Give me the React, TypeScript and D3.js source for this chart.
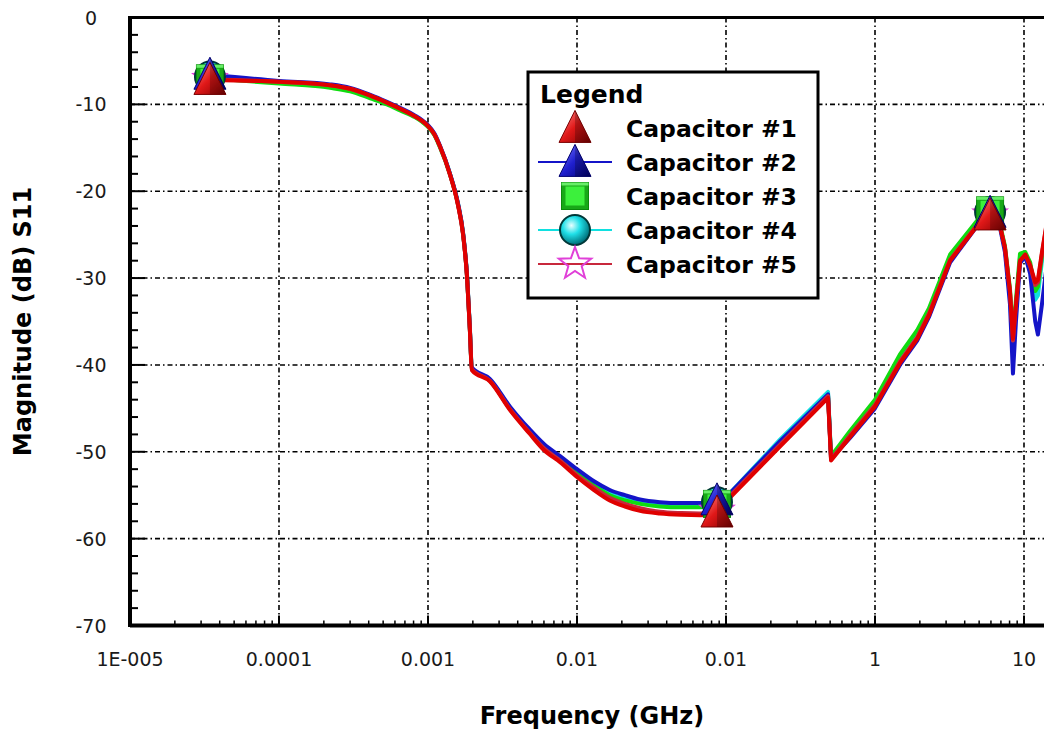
import React from "react";
import * as d3 from "d3";

// ---- data ----
const freqGHz = [
  3.44e-5, 1e-4, 2.2e-4, 3.0e-4, 4.1e-4, 5.3e-4, 6.5e-4, 8.2e-4, 9.1e-4, 1e-3, 1.1e-3, 1.2e-3,
  1.4e-3, 1.59e-3, 1.72e-3, 1.83e-3, 1.91e-3, 1.97e-3, 2.6e-3, 3.55e-3, 4.8e-3, 6.0e-3,
  7.7e-3, 0.01, 0.013, 0.0166, 0.021, 0.0265, 0.036, 0.05, 0.067, 0.087,
  0.106, 0.23, 0.484, 0.507, 0.68, 1.0, 1.47, 1.92, 2.3, 3.19,
  4.84, 5.6, 5.92, 6.9, 7.45, 8.05, 8.43, 8.83, 9.4, 10.2,
  11.0, 11.9, 12.4, 13.2, 14.1, 15.5,
];

const cap1 = [
  -7.2, -7.4, -7.8, -8.2, -9.0, -9.8, -10.5, -11.4, -11.9, -12.5, -13.4, -14.8,
  -18.0, -21.6, -25.0, -30.0, -36.0, -40.6, -41.9, -45.2, -47.9, -49.8,
  -51.2, -52.9, -54.4, -55.6, -56.3, -56.8, -57.1, -57.25, -57.3, -57.0,
  -55.3, -49.4, -43.8, -51.0, -48.3, -44.8, -39.8, -37.0, -34.3, -28.0,
  -24.0, -21.6, -22.8, -24.0, -26.5, -31.5, -37.0, -33.0, -28.0, -27.3,
  -28.5, -30.5, -30.2, -27.0, -24.0, -21.0,
];
const cap2 = [
  -6.6, -7.3, -7.7, -8.1, -8.9, -9.7, -10.4, -11.3, -11.8, -12.4, -13.3, -14.7,
  -17.9, -21.4, -24.8, -29.8, -35.8, -40.3, -41.6, -44.8, -47.4, -49.1,
  -50.5, -52.0, -53.4, -54.4, -55.0, -55.5, -55.8, -55.9, -55.9, -55.6,
  -54.8, -48.8, -43.4, -50.8, -48.4, -45.0, -40.0, -37.2, -34.5, -28.2,
  -24.0, -21.7, -22.5, -24.2, -27.0, -33.0, -41.0, -35.0, -28.3, -27.5,
  -29.5, -35.0, -36.5, -33.0, -29.0, -26.0,
];
const cap3 = [
  -7.0, -7.6, -8.1, -8.5, -9.3, -10.0, -10.7, -11.5, -12.0, -12.6, -13.5, -14.9,
  -18.0, -21.5, -24.9, -29.9, -35.9, -40.4, -41.8, -45.0, -47.7, -49.5,
  -50.9, -52.5, -53.9, -55.0, -55.6, -56.0, -56.3, -56.4, -56.4, -56.0,
  -55.0, -48.9, -43.5, -50.5, -47.6, -44.0, -38.8, -36.0, -33.5, -27.3,
  -23.4, -21.3, -22.2, -23.8, -26.3, -31.2, -36.5, -32.5, -27.2, -27.0,
  -28.2, -31.5, -31.0, -27.5, -24.5, -21.5,
];
const cap4 = [
  -6.8, -7.5, -8.0, -8.4, -9.2, -9.9, -10.6, -11.4, -11.9, -12.5, -13.4, -14.8,
  -17.9, -21.5, -24.9, -29.9, -35.9, -40.4, -41.7, -44.9, -47.6, -49.3,
  -50.7, -52.3, -53.7, -54.8, -55.4, -55.8, -56.1, -56.2, -56.2, -55.8,
  -54.8, -48.6, -43.1, -50.6, -47.9, -44.4, -39.2, -36.4, -33.9, -27.6,
  -23.6, -21.4, -22.4, -24.0, -26.6, -32.0, -38.0, -33.5, -27.6, -27.2,
  -28.8, -32.5, -32.0, -28.0, -25.0, -22.0,
];
const cap5 = [
  -7.1, -7.4, -7.8, -8.2, -9.0, -9.8, -10.5, -11.4, -11.9, -12.5, -13.4, -14.8,
  -18.0, -21.6, -25.0, -30.0, -36.0, -40.5, -41.8, -45.1, -47.8, -49.6,
  -51.0, -52.7, -54.1, -55.3, -56.0, -56.5, -56.9, -57.05, -57.1, -56.8,
  -55.1, -49.2, -43.6, -50.9, -48.1, -44.6, -39.6, -36.8, -34.1, -27.9,
  -23.9, -21.6, -22.7, -24.0, -26.5, -31.6, -37.2, -33.2, -28.0, -27.3,
  -28.6, -30.8, -30.5, -27.2, -24.2, -21.2,
];

const markerIdx = [0, 31, 44];
// points up to this index are drawn as a smooth curve, the rest as straight segments
const smoothEnd = 32;

const seriesNames = ["Capacitor #1", "Capacitor #2", "Capacitor #3", "Capacitor #4", "Capacitor #5"];

const xTickValues = [1e-5, 1e-4, 1e-3, 1e-2, 1e-1, 1, 10];
const xTickLabels = ["1E-005", "0.0001", "0.001", "0.01", "0.01", "1", "10"];
const yTickValues = [0, -10, -20, -30, -40, -50, -60, -70];
const yTickLabels = ["0", "-10", "-20", "-30", "-40", "-50", "-60", "-70"];

// ---- layout ----
const W = 1044;
const H = 731;
const LEFT = 130;
const TOP = 17.5;
const BOTTOM = 625.5;
const DECADE = 149;

const x = d3.scaleLog().domain([1e-5, Math.pow(10, 1.2)]).range([LEFT, LEFT + 6.2 * DECADE]);
const y = d3.scaleLinear().domain([-70, 0]).range([BOTTOM, TOP]);

type Shape = "triangle" | "square" | "circle" | "star";
const styles: { line: string; shape: Shape; fill: string; stroke: string; legendLine: boolean }[] = [
  { line: "#e00000", shape: "triangle", fill: "url(#gRed)", stroke: "#7a0000", legendLine: false },
  { line: "#1414c8", shape: "triangle", fill: "url(#gBlue)", stroke: "#000070", legendLine: true },
  { line: "#10dc10", shape: "square", fill: "#22dd22", stroke: "#0a8a0a", legendLine: false },
  { line: "#10e0e0", shape: "circle", fill: "url(#gCyan)", stroke: "#003838", legendLine: true },
  { line: "#c8283c", shape: "star", fill: "none", stroke: "#e040d8", legendLine: true },
];

const allSeries = [cap1, cap2, cap3, cap4, cap5];

function Marker({ shape, cx, cy, fill, stroke }: { shape: Shape; cx: number; cy: number; fill: string; stroke: string }) {
  if (shape === "triangle") {
    const w = 32, h = 32;
    const p = `M${cx},${cy - h * 0.55} L${cx + w / 2},${cy + h * 0.45} L${cx - w / 2},${cy + h * 0.45} Z`;
    return (
      <g>
        <path d={p} fill={fill} stroke={stroke} strokeWidth={1} />
        <path d={`M${cx},${cy - h * 0.55} L${cx + w / 2},${cy + h * 0.45} L${cx},${cy + h * 0.45} Z`} fill="#000" opacity={0.22} />
      </g>
    );
  }
  if (shape === "square") {
    const s = 27;
    return (
      <g>
        <rect x={cx - s / 2} y={cy - s / 2} width={s} height={s} fill="#18a818" stroke={stroke} strokeWidth={1} />
        <rect x={cx - s / 2 + 4} y={cy - s / 2 + 4} width={s - 8} height={s - 8} fill="#3cf03c" />
        <rect x={cx - s / 2} y={cy - s / 2} width={s} height={3} fill="#7cff7c" opacity={0.8} />
      </g>
    );
  }
  if (shape === "circle") {
    return <circle cx={cx} cy={cy} r={15} fill={fill} stroke={stroke} strokeWidth={2} />;
  }
  const pts: string[] = [];
  for (let i = 0; i < 10; i++) {
    const r = i % 2 === 0 ? 17 : 7;
    const a = -Math.PI / 2 + (i * Math.PI) / 5;
    pts.push(`${cx + r * Math.cos(a)},${cy + r * Math.sin(a)}`);
  }
  return <polygon points={pts.join(" ")} fill="none" stroke={stroke} strokeWidth={2} />;
}

export default function App() {
  const smoothLine = d3
    .line<[number, number]>()
    .x((d) => x(d[0]))
    .y((d) => y(d[1]))
    .curve(d3.curveMonotoneX);
  const straightLine = d3
    .line<[number, number]>()
    .x((d) => x(d[0]))
    .y((d) => y(d[1]))
    .curve(d3.curveLinear);

  const seriesPath = (vals: number[]) => {
    const pts = vals.map((v, i) => [freqGHz[i], v] as [number, number]);
    const a = smoothLine(pts.slice(0, smoothEnd + 1)) || "";
    const b = straightLine(pts.slice(smoothEnd)) || "";
    return a + b.replace(/^M/, "L");
  };

  const minorX: number[] = [];
  for (let e = -5; e <= 1; e++) {
    for (let m = 2; m <= 9; m++) minorX.push(m * Math.pow(10, e));
  }
  const minorY = d3.range(-70, 0.1, 2).filter((v) => v % 10 !== 0);

  const drawOrder = [3, 2, 1, 4, 0];
  const markerOrder = [4, 3, 2, 1, 0];
  const gridDash = "5,3,1.5,3";
  const rightEdge = LEFT + 6.2 * DECADE;

  const legendRows = [128, 162, 196, 230, 264];

  return (
    <svg width={W} height={H} style={{ position: "absolute", left: 0, top: 0, background: "#fff" }} fontFamily="DejaVu Sans, sans-serif">
      <defs>
        <linearGradient id="gRed" x1="0" y1="0" x2="1" y2="1">
          <stop offset="0" stopColor="#ff9090" />
          <stop offset="0.5" stopColor="#e01818" />
          <stop offset="1" stopColor="#800000" />
        </linearGradient>
        <linearGradient id="gBlue" x1="0" y1="0" x2="1" y2="1">
          <stop offset="0" stopColor="#8080ff" />
          <stop offset="0.5" stopColor="#2020d0" />
          <stop offset="1" stopColor="#000070" />
        </linearGradient>
        <radialGradient id="gCyan" cx="0.38" cy="0.35" r="0.65">
          <stop offset="0" stopColor="#e8ffff" />
          <stop offset="0.45" stopColor="#20e0e8" />
          <stop offset="1" stopColor="#00707a" />
        </radialGradient>
        <clipPath id="plotClip">
          <rect x={LEFT} y={TOP} width={rightEdge - LEFT} height={BOTTOM - TOP} />
        </clipPath>
      </defs>
      <rect x={0} y={0} width={W} height={H} fill="#fff" />

      {/* grid */}
      {xTickValues.slice(1).map((v, i) => (
        <line key={"gx" + i} x1={x(v)} x2={x(v)} y1={TOP} y2={BOTTOM} stroke="#000" strokeWidth={1.6} strokeDasharray={gridDash} />
      ))}
      {yTickValues.slice(1, -1).map((v, i) => (
        <line key={"gy" + i} x1={LEFT} x2={rightEdge} y1={y(v)} y2={y(v)} stroke="#000" strokeWidth={1.6} strokeDasharray={gridDash} />
      ))}

      {/* series lines */}
      <g clipPath="url(#plotClip)">
        {drawOrder.map((s) => (
          <path key={"l" + s} d={seriesPath(allSeries[s])} fill="none" stroke={styles[s].line} strokeWidth={4} strokeLinejoin="round" />
        ))}
      </g>

      {/* markers */}
      {markerIdx.map((idx) =>
        markerOrder.map((s) => (
          <Marker key={"m" + idx + "-" + s} shape={styles[s].shape} cx={x(freqGHz[idx])} cy={y(allSeries[s][idx])} fill={styles[s].fill} stroke={styles[s].stroke} />
        ))
      )}

      {/* axes */}
      <line x1={LEFT} x2={W} y1={TOP} y2={TOP} stroke="#000" strokeWidth={3} />
      <line x1={LEFT} x2={LEFT} y1={TOP - 1.5} y2={BOTTOM + 1.5} stroke="#000" strokeWidth={4} />
      <line x1={LEFT} x2={W} y1={BOTTOM} y2={BOTTOM} stroke="#000" strokeWidth={4} />

      {/* y ticks */}
      {yTickValues.map((v, i) => (
        <line key={"yt" + i} x1={LEFT} x2={LEFT + 15} y1={y(v)} y2={y(v)} stroke="#000" strokeWidth={2} />
      ))}
      {minorY.map((v, i) => (
        <line key={"ym" + i} x1={LEFT} x2={LEFT + 8} y1={y(v)} y2={y(v)} stroke="#000" strokeWidth={2} />
      ))}
      {/* x ticks */}
      {xTickValues.map((v, i) => (
        <line key={"xt" + i} x1={x(v)} x2={x(v)} y1={BOTTOM} y2={BOTTOM - 10} stroke="#000" strokeWidth={2} />
      ))}
      {minorX.map((v, i) => (
        <line key={"xm" + i} x1={x(v)} x2={x(v)} y1={BOTTOM} y2={BOTTOM - 5} stroke="#000" strokeWidth={1.5} />
      ))}

      {/* tick labels */}
      {yTickValues.map((v, i) => (
        <text key={"yl" + i} x={91} y={y(v) + 7} textAnchor="middle" fontSize={19} fill="#1a1a1a">
          {yTickLabels[i]}
        </text>
      ))}
      {xTickValues.map((v, i) => (
        <text key={"xl" + i} x={x(v)} y={666} textAnchor="middle" fontSize={19} fill="#1a1a1a">
          {xTickLabels[i]}
        </text>
      ))}

      {/* axis titles */}
      <text x={592} y={724} textAnchor="middle" fontSize={24} fontWeight="bold" fill="#000">
        Frequency (GHz)
      </text>
      <text transform={`translate(31,${(TOP + BOTTOM) / 2}) rotate(-90)`} textAnchor="middle" fontSize={24} fontWeight="bold" fill="#000">
        Magnitude (dB) S11
      </text>

      {/* legend */}
      <rect x={528} y={72} width={290} height={226} fill="#fff" stroke="#000" strokeWidth={3} />
      <text x={540} y={103} fontSize={25} fontWeight="bold" fill="#000">
        Legend
      </text>
      {seriesNames.map((name, i) => (
        <g key={"lg" + i}>
          {styles[i].legendLine && <line x1={538} x2={612} y1={legendRows[i]} y2={legendRows[i]} stroke={styles[i].line} strokeWidth={2} />}
          <Marker shape={styles[i].shape} cx={575} cy={legendRows[i]} fill={styles[i].fill} stroke={styles[i].stroke} />
          <text x={626} y={legendRows[i] + 9} fontSize={23.5} fontWeight="bold" fill="#000">
            {name}
          </text>
        </g>
      ))}
    </svg>
  );
}
